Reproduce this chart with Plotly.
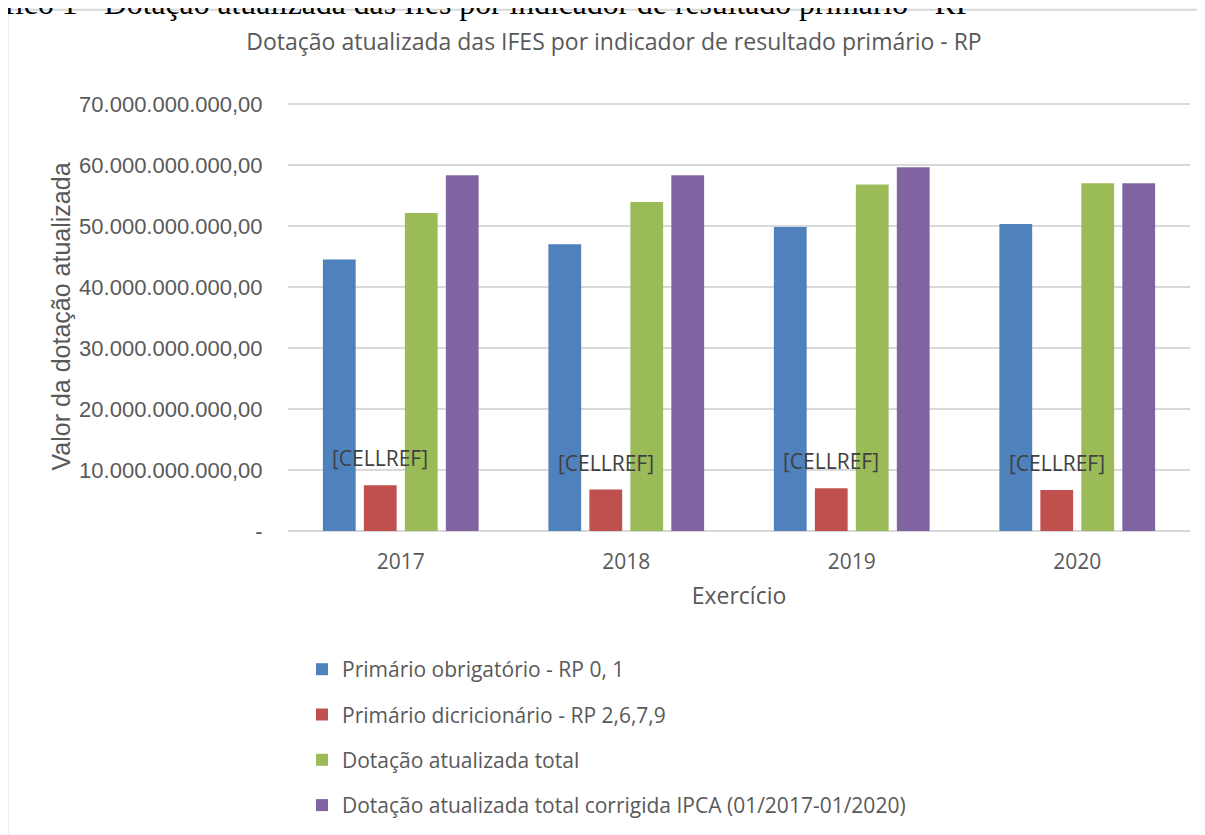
import plotly.graph_objects as go

years = ["2017", "2018", "2019", "2020"]
obrigatorio = [44.5e9, 47.0e9, 49.8e9, 50.3e9]
discricionario = [7.5e9, 6.8e9, 7.0e9, 6.7e9]
dotacao_total = [52.1e9, 53.9e9, 56.8e9, 57.0e9]
dotacao_ipca = [58.3e9, 58.3e9, 59.6e9, 57.0e9]

series_names = [
    "Primário obrigatório - RP 0, 1",
    "Primário dicricionário - RP 2,6,7,9",
    "Dotação atualizada total",
    "Dotação atualizada total corrigida IPCA (01/2017-01/2020)",
]
colors = ["#4F81BD", "#C0504D", "#9BBB59", "#8064A2"]

tick_vals = [0, 10e9, 20e9, 30e9, 40e9, 50e9, 60e9, 70e9]
tick_text = ["-", "10.000.000.000,00", "20.000.000.000,00", "30.000.000.000,00",
             "40.000.000.000,00", "50.000.000.000,00", "60.000.000.000,00",
             "70.000.000.000,00"]
label_text = "[CELLREF]"

# page offset (browser body margin) and figure size
O = 8
W, H = 1205 - O, 835 - O
YMAX = 70.3e9
# plot area in reference-screen pixels
L, R, B = 288, 1190, 531
T = B - (531 - 104) * YMAX / 70e9
pw, ph = R - L, B - T
BARGAP = 0.273


def px_x(p):
    return (p - L) / pw


def px_y(p):
    return (B - p) / ph


fig = go.Figure()
for i, (name, vals) in enumerate(zip(series_names,
                                     [obrigatorio, discricionario, dotacao_total, dotacao_ipca])):
    fig.add_trace(go.Bar(
        x=years, y=vals, name=name,
        marker=dict(color=colors[i], line=dict(width=0)),
        legendgroup=f"g{i}",
    ))

# data labels above the red bars (category index positions)
slot = pw / len(years) * (1 - BARGAP) / 4
for idx, v in enumerate(discricionario):
    fig.add_annotation(
        x=idx, y=v, xref="x", yref="y", text=label_text, showarrow=False,
        xshift=-0.5 * slot, yshift=27, yanchor="middle", xanchor="center",
        font=dict(family="Open Sans", size=21, color="#404040"),
    )

# caption at top (partially cut off)
fig.add_annotation(
    x=px_x(975), y=px_y(23), xref="paper", yref="paper",
    text="Gráfico 1 - Dotação atualizada das Ifes por indicador de resultado primário - RP",
    showarrow=False, xanchor="right", yanchor="bottom",
    font=dict(family="Liberation Serif", size=31.7, color="#000000"),
)

# chart border (left and top)
fig.add_shape(type="line", xref="paper", yref="paper",
              x0=px_x(7.5), x1=px_x(7.5), y0=px_y(840), y1=px_y(10),
              line=dict(color="#D9D9D9", width=2))
fig.add_shape(type="line", xref="paper", yref="paper",
              x0=px_x(7.5), x1=px_x(1210), y0=px_y(10), y1=px_y(10),
              line=dict(color="#D9D9D9", width=2))

fig.update_layout(
    width=W, height=H,
    margin=dict(l=L - O, r=(W + O) - R, t=T - O, b=(H + O) - B, autoexpand=False),
    paper_bgcolor="white", plot_bgcolor="white",
    barmode="group", bargap=BARGAP, bargroupgap=0.2,
    title=dict(
        text="Dotação atualizada das IFES por indicador de resultado primário - RP",
        x=(614 - O) / W, xref="container", xanchor="center",
        y=1 - (42 - O) / H, yref="container", yanchor="middle",
        font=dict(family="Open Sans", size=23, color="#595959"),
    ),
    font=dict(family="Open Sans", color="#595959"),
    legend=dict(
        x=px_x(302), y=px_y(649), xref="paper", yref="paper",
        xanchor="left", yanchor="top", orientation="v",
        traceorder="grouped", tracegroupgap=15,
        font=dict(family="Open Sans", size=21, color="#595959"),
        bgcolor="rgba(0,0,0,0)",
    ),
    xaxis=dict(
        type="category", range=[-0.5, 3.5], showgrid=False, showline=False,
        ticks="outside", ticklen=12, tickcolor="rgba(0,0,0,0)",
        tickfont=dict(family="Open Sans", size=21, color="#595959"),
        title=dict(text="Exercício", standoff=13,
                   font=dict(family="Open Sans", size=23, color="#595959")),
        automargin=False,
    ),
    yaxis=dict(
        range=[0, YMAX], tickvals=tick_vals, ticktext=tick_text,
        showgrid=True, gridcolor="#D9D9D9", gridwidth=1.5,
        zeroline=True, zerolinecolor="#D9D9D9", zerolinewidth=1.5,
        showline=False, ticks="outside", ticklen=20, tickcolor="rgba(0,0,0,0)",
        tickfont=dict(family="Liberation Sans", size=22, color="#595959"),
        title=dict(text="Valor da dotação atualizada", standoff=1,
                   font=dict(family="Liberation Sans", size=25, color="#595959")),
        automargin=False,
    ),
    showlegend=True,
)

fig.write_html("out.html")
